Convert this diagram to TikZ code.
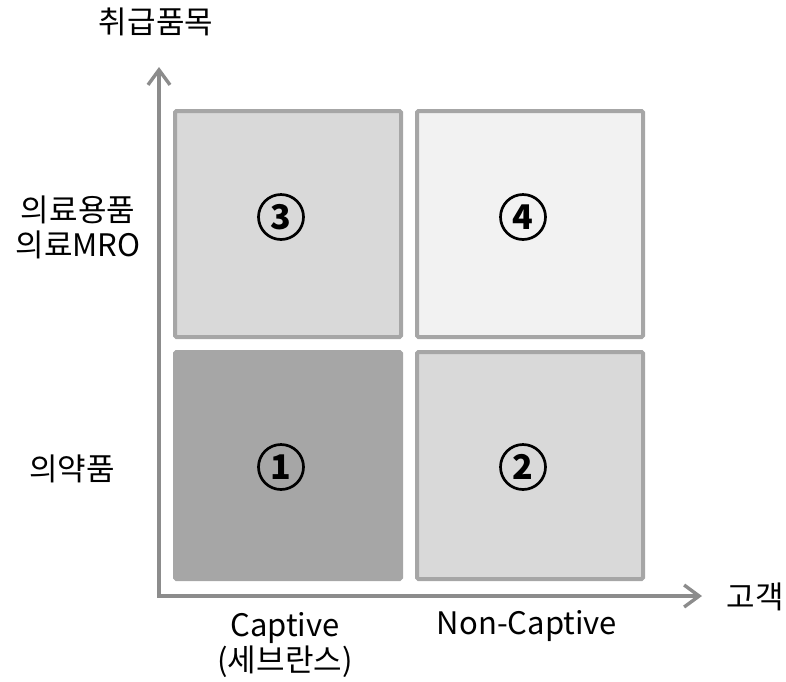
\documentclass[tikz,border=0pt]{standalone}
\usepackage{fontspec}
\setmainfont{Noto Sans CJK KR}
\usetikzlibrary{arrows.meta}
\definecolor{bordergray}{HTML}{A6A6A6}
\definecolor{midgray}{HTML}{D9D9D9}
\definecolor{lightgray2}{HTML}{F2F2F2}
\definecolor{axisgray}{HTML}{8C8C8C}
\tikzset{
  cell/.style={draw=bordergray, line width=4pt, rounded corners=1.5pt},
  axis/.style={draw=axisgray, line width=3.2pt, -{Straight Barb[length=15pt,width=22pt,line width=3.4pt]}},
  num/.style={circle, draw=black, line width=2.7pt, minimum size=45pt, inner sep=0pt, font=\fontsize{34}{34}\selectfont\bfseries},
  lbl/.style={font=\fontsize{31}{35}\selectfont, align=center, inner sep=0pt}
}
\begin{document}
\begin{tikzpicture}[x=1pt,y=-1pt]
\useasboundingbox (0,0) rectangle (786,681);
% cells
\path[cell, fill=midgray] (175,111) rectangle (401,337);
\path[cell, fill=lightgray2] (417,111) rectangle (643,337);
\path[cell, fill=bordergray] (175,352) rectangle (401,579);
\path[cell, fill=midgray] (417,352) rectangle (643,579);
% axes
\coordinate (ytip) at (159,67);
\coordinate (xtip) at (702,596);
\draw[axis] (159,597.6) -- (ytip);
\draw[axis] (157.4,596) -- (xtip);
% numbers
\node[num] (n3) at (281,217) {3};
\node[num] (n4) at (523,217) {4};
\node[num] (n1) at (281,467) {1};
\node[num] (n2) at (523,467) {2};
% labels
\node[lbl] (yl) at (156,22) {취급품목};
\node[lbl] (r2) at (78,227) {의료용품\\의료MRO};
\node[lbl] (r1) at (72,469) {의약품};
\node[lbl] (c1) at (285,645) {Captive\\(세브란스)};
\node[lbl] (c2) at (527,626) {Non-Captive};
\node[lbl] (xl) at (755,597) {고객};
\end{tikzpicture}
\end{document}
